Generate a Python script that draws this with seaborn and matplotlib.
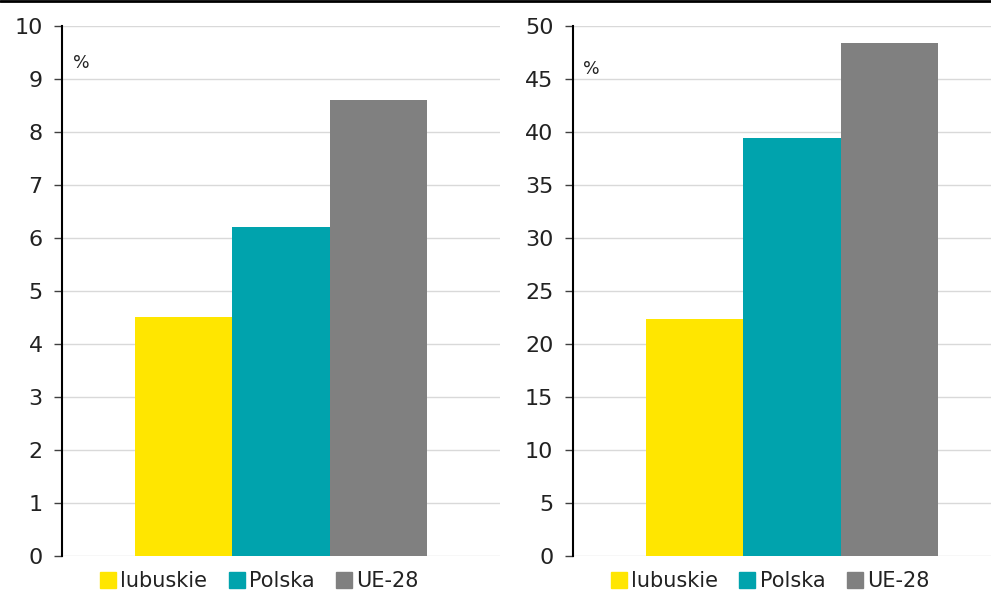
import matplotlib
matplotlib.use('Agg')
import matplotlib.pyplot as plt
import seaborn as sns
import pandas as pd
from matplotlib.lines import Line2D

# dane
regiony = ['lubuskie', 'Polska', 'UE-28']
wartosci_lewy = [4.5, 6.2, 8.6]
wartosci_prawy = [22.4, 39.4, 48.4]
kolory = ['#FFE600', '#00A3AD', '#808080']

sns.set_theme(style='white')
plt.rcParams['font.family'] = ['DejaVu Sans']

fig = plt.figure(figsize=(9.91, 5.91), dpi=100)
ax1 = fig.add_axes([0.0626, 0.0592, 0.442, 0.897])
ax2 = fig.add_axes([0.578, 0.0592, 0.442, 0.897])

# linia na górze
fig.add_artist(Line2D([0, 1], [0.9985, 0.9985], color='black', lw=2, transform=fig.transFigure))

for ax, vals, ymax, step, py in [(ax1, wartosci_lewy, 10, 1, 0.92), (ax2, wartosci_prawy, 50, 5, 0.91)]:
    df = pd.DataFrame({'grupa': [''] * 3, 'region': regiony, 'wartosc': vals})
    sns.barplot(data=df, x='grupa', y='wartosc', hue='region', palette=kolory,
                width=0.667, saturation=1, linewidth=0, ax=ax, legend=False)
    ax.set_xlim(-0.5, 0.5)
    ax.set_ylim(0, ymax)
    ax.set_yticks(range(0, ymax + 1, step))
    ax.set_xticks([])
    ax.set_xlabel('')
    ax.set_ylabel('')
    ax.grid(axis='y', color='#d9d9d9', lw=1)
    ax.set_axisbelow(True)
    for s in ['top', 'right', 'bottom']:
        ax.spines[s].set_visible(False)
    ax.spines['left'].set_color('black')
    ax.spines['left'].set_linewidth(1.5)
    ax.tick_params(axis='y', left=True, length=6, width=1, color='#404040',
                   labelsize=16, labelcolor='#222222', pad=8)
    ax.text(0.024, py, '%', transform=ax.transAxes, fontsize=12.5, color='#222222')
    handles = [Line2D([], [], marker='s', ls='', color=c, markersize=11) for c in kolory]
    ax.legend(handles, regiony, loc='center', bbox_to_anchor=(0.45, -0.047), ncol=3,
              frameon=False, fontsize=15, handlelength=0.8, handletextpad=0.2,
              columnspacing=1.0, labelcolor='#222222')

fig.savefig('out.png', dpi=100)
